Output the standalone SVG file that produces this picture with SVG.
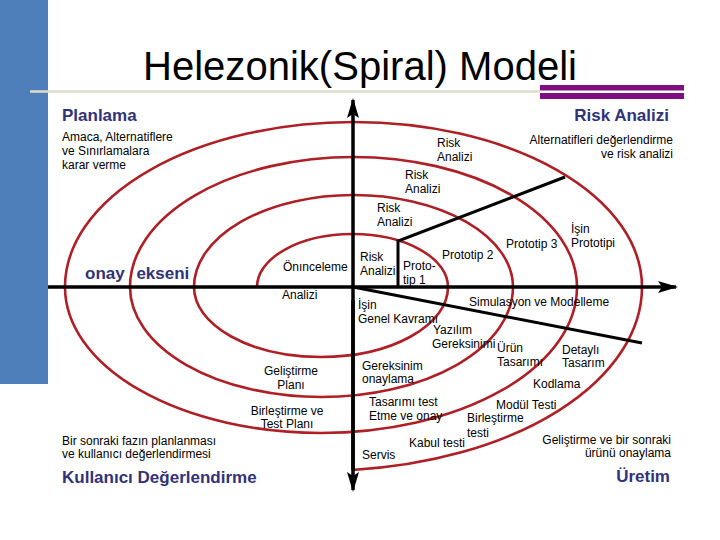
<svg xmlns="http://www.w3.org/2000/svg" width="720" height="540" viewBox="0 0 720 540">
<style>
.t{font-family:"Liberation Sans",Arial,sans-serif;font-size:12px;fill:#000}
.h{font-family:"Liberation Sans",Arial,sans-serif;font-size:17px;font-weight:bold;fill:#323278}
.e{text-anchor:end}
.m{text-anchor:middle}
.ax{stroke:#000;stroke-width:3.5;fill:none}
.ln{stroke:#000;stroke-width:3;fill:none}
.sp{stroke:#AE1F26;stroke-width:2.6;fill:none}
</style>
<defs>
<marker id="arr" viewBox="0 0 20 12" refX="18" refY="6" markerWidth="20" markerHeight="12" markerUnits="userSpaceOnUse" orient="auto">
<path d="M0,0 L20,6 L0,12 L4,6 z" fill="#000"/>
</marker>
</defs>
<rect width="720" height="540" fill="#fff"/>
<g id="decor">
<rect x="0" y="0" width="48" height="384" fill="#4F7FBA"/>
<line x1="30" y1="91.5" x2="540" y2="91.5" stroke="#DCDCCE" stroke-width="2.5"/>
<rect x="540" y="85" width="144" height="14" fill="#7F0F7E"/>
<rect x="540" y="90.5" width="144" height="2.5" fill="#fff"/>
<text x="143" y="80" font-family="Liberation Sans,Arial,sans-serif" font-size="40" textLength="434" lengthAdjust="spacingAndGlyphs" fill="#000">Helezonik(Spiral) Modeli</text>
</g>
<g id="spiral">
<path class="sp" d="M257,287 A95.5,53 0 0 1 448,287 A127,70 0 0 1 194,287 A159.5,92 0 0 1 513,287 A191.5,110 0 0 1 130,287 A223.5,130 0 0 1 577,287 A256,146 0 0 1 65,287 A288.5,165 0 0 1 642,287 A321,184 0 0 1 352,470"/>
</g>
<g id="connectors">
<line class="ax" x1="48" y1="287" x2="676" y2="287" marker-end="url(#arr)"/>
<line class="ax" x1="353" y1="470" x2="353" y2="100" marker-end="url(#arr)"/>
<line class="ax" x1="353" y1="300" x2="353" y2="490" marker-end="url(#arr)"/>
<polyline class="ln" points="398,287 398,241 565,177"/>
<line class="ln" x1="353" y1="287" x2="642" y2="343"/>
</g>
<g id="quadrant-labels">
<text class="h" x="62" y="121">Planlama</text>
<text class="h e" x="669" y="121">Risk Analizi</text>
<text class="h" x="85" y="279" word-spacing="7">onay ekseni</text>
<text class="h" x="62" y="483">Kullanıcı Değerlendirme</text>
<text class="h e" x="670" y="482">Üretim</text>
</g>
<g id="n-amaca"><text class="t" x="62" y="141">Amaca, Alternatiflere</text><text class="t" x="62" y="155">ve Sınırlamalara</text><text class="t" x="62" y="169">karar verme</text></g>
<g id="n-alternatif"><text class="t e" x="673" y="144">Alternatifleri değerlendirme</text><text class="t e" x="673" y="158">ve risk analizi</text></g>
<g id="n-risk1"><text class="t" x="437" y="147">Risk</text><text class="t" x="437" y="161">Analizi</text></g>
<g id="n-risk2"><text class="t" x="405" y="179">Risk</text><text class="t" x="405" y="193">Analizi</text></g>
<g id="n-risk3"><text class="t" x="377" y="212">Risk</text><text class="t" x="377" y="226">Analizi</text></g>
<g id="n-risk4"><text class="t" x="360" y="261">Risk</text><text class="t" x="360" y="275">Analizi</text></g>
<g id="n-proto1"><text class="t" x="403" y="270">Proto-</text><text class="t" x="403" y="284">tip 1</text></g>
<g id="n-proto2"><text class="t" x="442" y="259">Prototip 2</text></g>
<g id="n-proto3"><text class="t" x="506" y="248">Prototip 3</text></g>
<g id="n-isin-proto"><text class="t" x="571" y="233">İşin</text><text class="t" x="571" y="247">Prototipi</text></g>
<g id="n-onince"><text class="t" x="283" y="271">Önınceleme</text></g>
<g id="n-analizi"><text class="t" x="282" y="299">Analizi</text></g>
<g id="n-genel"><text class="t" x="358" y="309">İşin</text><text class="t" x="358" y="323">Genel Kavramı</text></g>
<g id="n-simul"><text class="t" x="469" y="306">Simulasyon ve Modelleme</text></g>
<g id="n-yazilim"><text class="t" x="433" y="334">Yazılım</text><text class="t" x="432" y="348">Gereksinimi</text></g>
<g id="n-urun"><text class="t" x="497" y="352">Ürün</text><text class="t" x="497" y="366">Tasarımı</text></g>
<g id="n-detay"><text class="t" x="562" y="354">Detaylı</text><text class="t" x="562" y="367">Tasarım</text></g>
<g id="n-gereksinim"><text class="t" x="362" y="370">Gereksinim</text><text class="t" x="362" y="383">onaylama</text></g>
<g id="n-kodlama"><text class="t" x="533" y="388">Kodlama</text></g>
<g id="n-tasarim-test"><text class="t" x="369" y="406">Tasarımı test</text><text class="t" x="369" y="420">Etme ve onay</text></g>
<g id="n-modul"><text class="t" x="496" y="409">Modül Testi</text></g>
<g id="n-birles-test"><text class="t" x="467" y="422">Birleştirme</text><text class="t" x="467" y="437">testi</text></g>
<g id="n-kabul"><text class="t" x="409" y="447">Kabul testi</text></g>
<g id="n-servis"><text class="t" x="362" y="459">Servis</text></g>
<g id="n-gelistirme-sonraki"><text class="t e" x="671" y="444">Geliştirme ve bir sonraki</text><text class="t e" x="671" y="457">ürünü onaylama</text></g>
<g id="n-gelistirme-plan"><text class="t m" x="291" y="375">Geliştirme</text><text class="t m" x="291" y="389">Planı</text></g>
<g id="n-birles-plan"><text class="t m" x="287" y="415">Birleştirme ve</text><text class="t m" x="287" y="428">Test Planı</text></g>
<g id="n-sonraki-faz"><text class="t" x="62" y="445">Bir sonraki fazın planlanması</text><text class="t" x="62" y="458">ve kullanıcı değerlendirmesi</text></g>
</svg>
